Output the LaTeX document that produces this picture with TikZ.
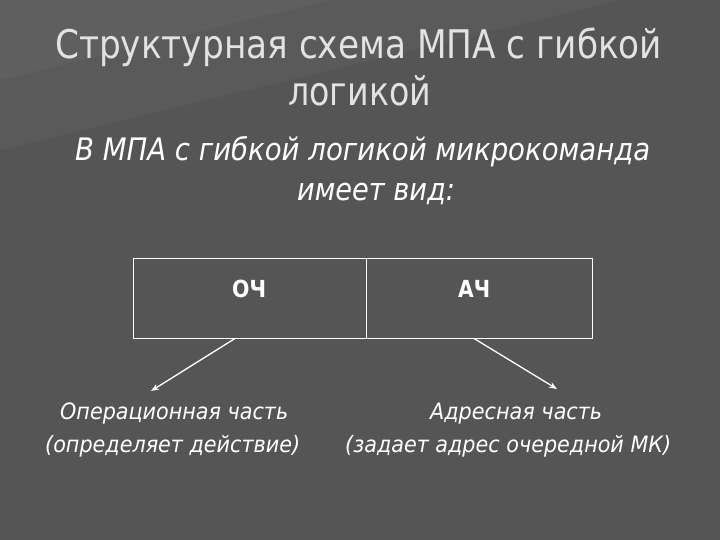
\documentclass[tikz,border=0pt]{standalone}
\usepackage{fontspec}
\setmainfont{DejaVu Sans}
\usetikzlibrary{arrows.meta}
\definecolor{bg}{HTML}{555555}
\definecolor{bglight}{HTML}{5A5A5A}
\definecolor{bglighter}{HTML}{5F5F5F}
\definecolor{titlecol}{HTML}{E2E2E2}
\newcommand{\fitw}[2]{\resizebox{#1}{\height}{#2}}
\begin{document}
\begin{tikzpicture}[x=1pt,y=-1pt,
  txt/.style={inner sep=0pt, anchor=base west, text=white},
  ttl/.style={txt, text=titlecol},
  cell/.style={draw=white, line width=0.9pt, rectangle, inner sep=0pt, minimum height=80pt},
  arr/.style={draw=white, line width=1.3pt, -{Stealth[length=8pt,width=6pt]}}]
\useasboundingbox (0,0) rectangle (720,540);
\fill[bg] (0,0) rectangle (720,540);
\fill[bglight] (0,0) -- (620,0) -- (0,150) -- cycle;
\fill[bglighter] (0,0) -- (330,0) -- (0,80) -- cycle;
% title
\node[ttl] (t1) at (55,59) {\fitw{607pt}{\fontsize{39.5}{41}\selectfont Структурная схема МПА с гибкой}};
\node[ttl] (t2) at (288,106) {\fitw{143pt}{\fontsize{39.5}{41}\selectfont логикой}};
% subtitle
\node[txt] (s1) at (75,161) {\fitw{575pt}{\fontsize{31}{33}\selectfont\itshape В МПА с гибкой логикой микрокоманда}};
\node[txt] (s2) at (297,201) {\fitw{158pt}{\fontsize{31}{33}\selectfont\itshape имеет вид:}};
% microcommand box
\node[cell, minimum width=233pt] (och) at (249.5,298) {};
\node[cell, minimum width=226pt] (ach) at (479,298) {};
\node[txt] (ochl) at (232,297) {\fitw{34pt}{\fontsize{23.5}{25}\selectfont\bfseries ОЧ}};
\node[txt] (achl) at (458,297) {\fitw{32pt}{\fontsize{23.5}{25}\selectfont\bfseries АЧ}};
% lower labels
\node[txt] (op1) at (60,419) {\fitw{228pt}{\fontsize{22.5}{24}\selectfont\itshape Операционная часть}};
\node[txt] (op2) at (45,452) {\fitw{255pt}{\fontsize{22.5}{24}\selectfont\itshape (определяет действие)}};
\node[txt] (ad1) at (430,419) {\fitw{172pt}{\fontsize{22.5}{24}\selectfont\itshape Адресная часть}};
\node[txt] (ad2) at (345,452) {\fitw{326pt}{\fontsize{22.5}{24}\selectfont\itshape (задает адрес очередной МК)}};
% arrows
\coordinate (e1) at (151,391);
\coordinate (e2) at (557,389);
\draw[arr] ([xshift=-14.5pt]och.south) -- (e1);
\draw[arr] ([xshift=-5pt]ach.south) -- (e2);
\end{tikzpicture}
\end{document}
